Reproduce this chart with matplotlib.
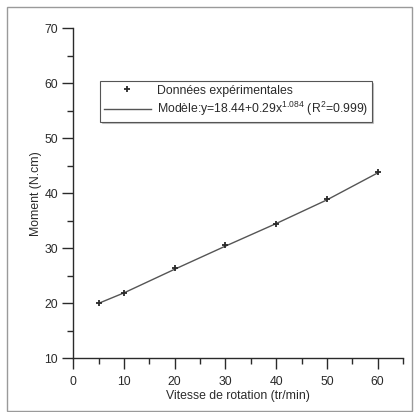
#!/usr/bin/env python3

# Moment vs rotation speed: measured points and fitted power model

import matplotlib
matplotlib.use('Agg')
import matplotlib.pyplot as plt
from matplotlib.patches import Rectangle
from matplotlib.ticker import MultipleLocator

plt.rcParams['font.family'] = ['Liberation Sans', 'DejaVu Sans']
plt.rcParams['mathtext.fontset'] = 'custom'
plt.rcParams['mathtext.rm'] = 'Liberation Sans'
plt.rcParams['mathtext.default'] = 'regular'

# Experimental data
speed = [5, 10, 20, 30, 40, 50, 60]
moment = [20.0, 21.9, 26.4, 30.6, 34.5, 38.9, 43.9]

# Model curve as drawn
model_speed = [5, 10, 20, 30, 40, 50, 60]
model_moment = [20.0, 21.9, 26.2, 30.4, 34.5, 38.8, 43.7]

label_data = 'Données expérimentales'
label_model = 'Modèle:y=18.44+0.29x$^{1.084}$ (R$^{2}$=0.999)'

ink = '#2a2a2a'
fs = 8.8

fig = plt.figure(figsize=(4.15, 4.12), dpi=100)
ax = fig.add_axes([0.1766, 0.1303, 0.971 - 0.1766, 0.9313 - 0.1303])

# Outer frame around the whole figure
fig.patches.append(Rectangle((0.017, 0.003), 0.975, 0.979, transform=fig.transFigure,
                             fill=False, edgecolor='#9a9a9a', linewidth=1.0))

ax.plot(model_speed, model_moment, color='#555555', linewidth=1.0,
        label=label_model, zorder=2)
ax.plot(speed, moment, linestyle='none', marker='+', markersize=5,
        markeredgewidth=1.3, color=ink, label=label_data, zorder=3)

ax.set_xlim(0, 65)
ax.set_ylim(10, 70)

ax.xaxis.set_major_locator(MultipleLocator(10))
ax.xaxis.set_minor_locator(MultipleLocator(5))
ax.yaxis.set_major_locator(MultipleLocator(10))
ax.yaxis.set_minor_locator(MultipleLocator(5))
ax.set_xticks(range(0, 61, 10))

for side in ['top', 'right']:
    ax.spines[side].set_visible(False)
for side in ['left', 'bottom']:
    ax.spines[side].set_color(ink)
    ax.spines[side].set_linewidth(1.0)

ax.tick_params(which='major', direction='out', length=8, width=1.0,
               color=ink, labelsize=fs, labelcolor=ink, pad=3)
ax.tick_params(axis='x', which='major', pad=5)
ax.tick_params(which='minor', direction='out', length=4, width=1.0, color=ink)

# Axis name
ax.set_xlabel('Vitesse de rotation (tr/min)', fontsize=fs, color=ink, labelpad=1)
ax.set_ylabel('Moment (N.cm)', fontsize=fs, color=ink, labelpad=2)

# Legend
handles, labels = ax.get_legend_handles_labels()
leg = ax.legend(handles[::-1], labels[::-1], loc='upper left',
                bbox_to_anchor=(0.081, 0.840), borderaxespad=0,
                fontsize=fs, frameon=True, fancybox=False,
                shadow={'ox': 1.2, 'oy': -1.2, 'color': '#9a9a9a'},
                handlelength=3.9, handletextpad=0.45, labelspacing=0.25,
                borderpad=0.3)
leg.get_frame().set_edgecolor('#555555')
leg.get_frame().set_linewidth(0.8)
for t in leg.get_texts():
    t.set_color(ink)

plt.savefig('out.png', dpi=100)
